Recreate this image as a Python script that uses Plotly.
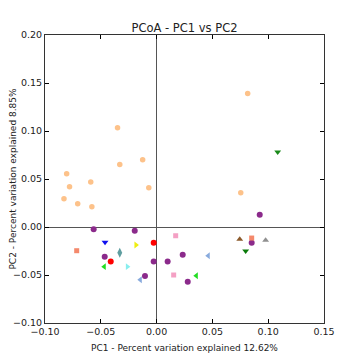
import plotly.graph_objects as go

# Series data (PC1, PC2)
orange_x = [-0.035, -0.0125, -0.033, -0.0806, -0.059, -0.078, -0.007, -0.083, -0.0707, -0.058, 0.0816, 0.0754]
orange_y = [0.1034, 0.070, 0.065, 0.0555, 0.047, 0.042, 0.041, 0.0295, 0.0243, 0.021, 0.139, 0.0357]

purple_x = [0.0924, -0.0564, -0.0196, -0.0465, -0.0026, 0.0099, -0.0104, 0.0852, 0.0234, 0.0279]
purple_y = [0.0128, -0.0024, -0.0038, -0.031, -0.036, -0.036, -0.051, -0.0163, -0.0288, -0.057]

red_x = [-0.0026, -0.0411]
red_y = [-0.0163, -0.036]

pink_sq_x = [0.0171, 0.0153]
pink_sq_y = [-0.0091, -0.050]

salmon_sq_x = [-0.0716, 0.0852]
salmon_sq_y = [-0.0247, -0.0115]

tri_down_x = [0.1085, -0.0462, 0.0798]
tri_down_y = [0.078, -0.016, -0.025]
tri_down_c = ["#1a8a1a", "#1010ee", "#0a7a0a"]

tri_up_x = [0.0745, 0.0977]
tri_up_y = [-0.0128, -0.0139]
tri_up_c = ["#8b5a2b", "#909090"]

tri_left_x = [-0.0469, 0.0356, -0.0146, 0.0463]
tri_left_y = [-0.0413, -0.0507, -0.055, -0.0299]
tri_left_c = ["#22dd22", "#22dd22", "#88aadd", "#88aadd"]

tri_right_x = [-0.0185, -0.0262]
tri_right_y = [-0.0188, -0.0413]
tri_right_c = ["#eeee11", "#88eeee"]

diam_x = [-0.033]
diam_y = [-0.0268]

fig = go.Figure()

def add(x, y, symbol, color, size=6):
    fig.add_trace(go.Scatter(x=x, y=y, mode="markers",
                             marker=dict(symbol=symbol, color=color, size=size, line=dict(width=0)),
                             showlegend=False, hoverinfo="skip"))

add(orange_x, orange_y, "circle", "#fdc28a", 5.5)
add(purple_x, purple_y, "circle", "#8b2a8b", 6)
add(red_x, red_y, "circle", "#ff0000", 6)
add(pink_sq_x, pink_sq_y, "square", "#f4a0c4", 5)
add(salmon_sq_x, salmon_sq_y, "square", "#f4896c", 5)
add(tri_down_x, tri_down_y, "triangle-down", tri_down_c, 6)
add(tri_up_x, tri_up_y, "triangle-up", tri_up_c, 6)
add(tri_left_x, tri_left_y, "triangle-left", tri_left_c, 6)
add(tri_right_x, tri_right_y, "triangle-right", tri_right_c, 6)
add(diam_x, diam_y, "diamond-tall", "#5f9ea0", 7)

axis_common = dict(
    showgrid=False, zeroline=True, zerolinecolor="#555555", zerolinewidth=1.2,
    showline=True, linecolor="#333333", linewidth=1, mirror="ticks",
    ticks="inside", ticklen=4, tickcolor="#000000", automargin=False,
    tickfont=dict(family="DejaVu Sans", size=9.5, color="#222222"),
)

fig.update_layout(
    width=352, height=352,
    margin=dict(l=37, r=36, t=27, b=37),
    paper_bgcolor="white", plot_bgcolor="white",
    title=dict(text="PCoA - PC1 vs PC2", x=0.5, xanchor="center", y=0.944, yanchor="middle",
               xref="paper", font=dict(family="DejaVu Sans", size=11.5, color="#222222")),
    xaxis=dict(range=[-0.10, 0.15], tickvals=[-0.10, -0.05, 0.0, 0.05, 0.10, 0.15],
               ticktext=["\u22120.10", "\u22120.05", "0.00", "0.05", "0.10", "0.15"],
               title=dict(text="PC1 - Percent variation explained 12.62%", standoff=8,
                          font=dict(family="DejaVu Sans", size=9, color="#222222")),
               **axis_common),
    yaxis=dict(range=[-0.10, 0.20], tickvals=[-0.10, -0.05, 0.0, 0.05, 0.10, 0.15, 0.20],
               ticktext=["\u22120.10", "\u22120.05", "0.00", "0.05", "0.10", "0.15", "0.20"],
               title=dict(text="PC2 - Percent variation explained 8.85%", standoff=12,
                          font=dict(family="DejaVu Sans", size=9, color="#222222")),
               **axis_common),
)

fig.write_html("out.html")
